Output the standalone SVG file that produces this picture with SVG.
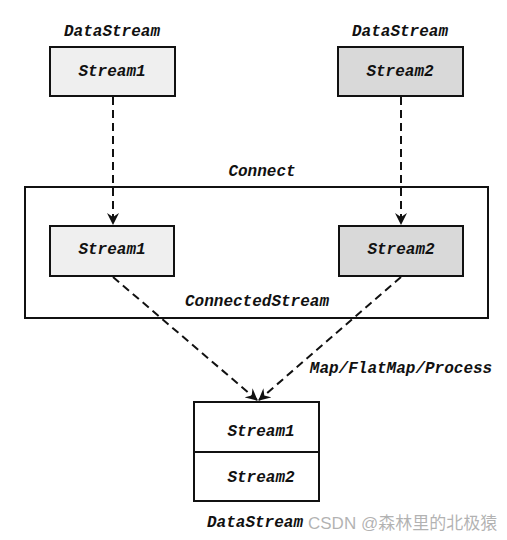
<svg xmlns="http://www.w3.org/2000/svg" width="507" height="540" viewBox="0 0 507 540">
<defs>
<style>
.t{font-family:"Liberation Mono","DejaVu Sans Mono",monospace;font-weight:bold;font-style:italic;font-size:16px;fill:#111;text-anchor:middle;dominant-baseline:central}
.box{stroke:#111;stroke-width:2}
.l1{fill:#efefef}
.l2{fill:#d9d9d9}
.edge{fill:none;stroke:#111;stroke-width:2;stroke-dasharray:8 5}
.wm{font-family:"Liberation Sans","Noto Sans CJK SC",sans-serif;font-size:17px;fill:#999;fill-opacity:0.75}
</style>
<marker id="ah" viewBox="0 0 12 12" refX="11" refY="6" markerWidth="12" markerHeight="12" markerUnits="userSpaceOnUse" orient="auto">
<path d="M0,0 L12,6 L0,12 L4,6 Z" fill="#111"/>
</marker>
</defs>
<rect width="507" height="540" fill="#fff"/>
<g id="ds1">
<text class="t" x="112" y="32">DataStream</text>
<rect class="box l1" x="50" y="47" width="125" height="49"/>
<text class="t" x="112" y="72">Stream1</text>
</g>
<g id="ds2">
<text class="t" x="400" y="32">DataStream</text>
<rect class="box l2" x="338" y="47" width="125" height="49"/>
<text class="t" x="400" y="72">Stream2</text>
</g>
<g id="connected">
<text class="t" x="262" y="172">Connect</text>
<rect class="box" fill="none" x="25" y="187" width="463" height="131"/>
<text class="t" x="257" y="302">ConnectedStream</text>
</g>
<g id="cs1">
<rect class="box l1" x="50" y="226" width="124" height="50"/>
<text class="t" x="112" y="250">Stream1</text>
</g>
<g id="cs2">
<rect class="box l2" x="339" y="226" width="124" height="50"/>
<text class="t" x="401" y="250">Stream2</text>
</g>
<g id="result">
<rect class="box" fill="#fff" x="194" y="402" width="125" height="99"/>
<line class="box" x1="194" y1="452" x2="319" y2="452"/>
<text class="t" x="261" y="432">Stream1</text>
<text class="t" x="261" y="478">Stream2</text>
<text class="t" x="255" y="523">DataStream</text>
</g>
<g id="edges">
<line class="edge" x1="113" y1="97" x2="113" y2="224" marker-end="url(#ah)"/>
<line class="edge" x1="401" y1="97" x2="401" y2="224" marker-end="url(#ah)"/>
<line class="edge" x1="113" y1="277" x2="257" y2="400" marker-end="url(#ah)"/>
<line class="edge" x1="401" y1="277" x2="259" y2="400" marker-end="url(#ah)"/>
<text class="t" x="401" y="369">Map/FlatMap/Process</text>
</g>
<text class="wm" x="308" y="529">CSDN @森林里的北极猿</text>
</svg>
